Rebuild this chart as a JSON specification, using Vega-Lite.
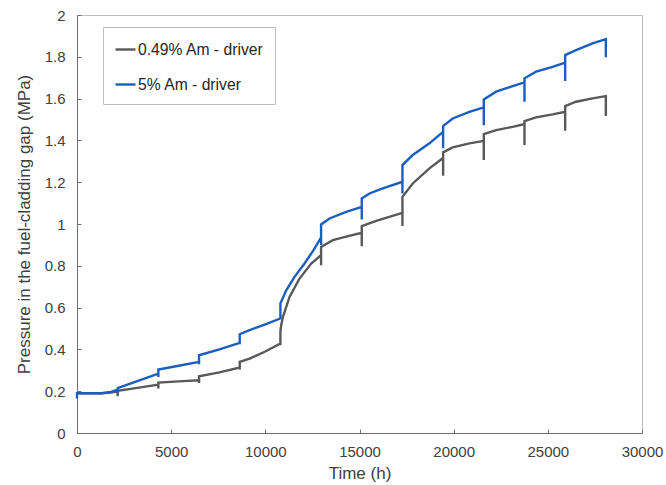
{
  "$schema": "https://vega.github.io/schema/vega-lite/v6.json",
  "width": 565,
  "height": 418,
  "autosize": {"type": "none"},
  "padding": {"left": 77, "top": 15, "right": 24, "bottom": 52},
  "background": "white",
  "config": {
    "font": "Liberation Sans",
    "view": {"stroke": "#bfbfbf", "strokeWidth": 1},
    "axis": {
      "domainColor": "#6e6e6e",
      "tickColor": "#6e6e6e",
      "grid": false,
      "labelColor": "#404040",
      "titleColor": "#404040",
      "labelFont": "Liberation Sans",
      "titleFont": "Liberation Sans",
      "labelFontSize": 15,
      "titleFontSize": 17,
      "titleFontWeight": "normal",
      "tickSize": -4
    }
  },
  "data": {
    "values": [
      {"s": "0.49% Am - driver", "i": 0, "t": 0, "p": 0.19},
      {"s": "0.49% Am - driver", "i": 1, "t": 1300, "p": 0.19},
      {"s": "0.49% Am - driver", "i": 2, "t": 1800, "p": 0.193},
      {"s": "0.49% Am - driver", "i": 3, "t": 2160, "p": 0.1997},
      {"s": "0.49% Am - driver", "i": 4, "t": 2160, "p": 0.176},
      {"s": "0.49% Am - driver", "i": 5, "t": 2160, "p": 0.202},
      {"s": "0.49% Am - driver", "i": 6, "t": 3200, "p": 0.216},
      {"s": "0.49% Am - driver", "i": 7, "t": 4320, "p": 0.2317},
      {"s": "0.49% Am - driver", "i": 8, "t": 4320, "p": 0.2126},
      {"s": "0.49% Am - driver", "i": 9, "t": 4320, "p": 0.2413},
      {"s": "0.49% Am - driver", "i": 10, "t": 5400, "p": 0.247},
      {"s": "0.49% Am - driver", "i": 11, "t": 6480, "p": 0.252},
      {"s": "0.49% Am - driver", "i": 12, "t": 6480, "p": 0.239},
      {"s": "0.49% Am - driver", "i": 13, "t": 6480, "p": 0.2715},
      {"s": "0.49% Am - driver", "i": 14, "t": 7560, "p": 0.29},
      {"s": "0.49% Am - driver", "i": 15, "t": 8640, "p": 0.313},
      {"s": "0.49% Am - driver", "i": 16, "t": 8640, "p": 0.3035},
      {"s": "0.49% Am - driver", "i": 17, "t": 8640, "p": 0.34},
      {"s": "0.49% Am - driver", "i": 18, "t": 9163, "p": 0.356},
      {"s": "0.49% Am - driver", "i": 19, "t": 10000, "p": 0.39},
      {"s": "0.49% Am - driver", "i": 20, "t": 10800, "p": 0.428},
      {"s": "0.49% Am - driver", "i": 21, "t": 10800, "p": 0.42},
      {"s": "0.49% Am - driver", "i": 22, "t": 10800, "p": 0.4836},
      {"s": "0.49% Am - driver", "i": 23, "t": 10830, "p": 0.51},
      {"s": "0.49% Am - driver", "i": 24, "t": 10930, "p": 0.555},
      {"s": "0.49% Am - driver", "i": 25, "t": 11285, "p": 0.651},
      {"s": "0.49% Am - driver", "i": 26, "t": 11816, "p": 0.739},
      {"s": "0.49% Am - driver", "i": 27, "t": 12437, "p": 0.811},
      {"s": "0.49% Am - driver", "i": 28, "t": 12960, "p": 0.851},
      {"s": "0.49% Am - driver", "i": 29, "t": 12960, "p": 0.803},
      {"s": "0.49% Am - driver", "i": 30, "t": 12960, "p": 0.8906},
      {"s": "0.49% Am - driver", "i": 31, "t": 13583, "p": 0.9227},
      {"s": "0.49% Am - driver", "i": 32, "t": 14293, "p": 0.94},
      {"s": "0.49% Am - driver", "i": 33, "t": 15120, "p": 0.9576},
      {"s": "0.49% Am - driver", "i": 34, "t": 15120, "p": 0.894},
      {"s": "0.49% Am - driver", "i": 35, "t": 15120, "p": 0.9897},
      {"s": "0.49% Am - driver", "i": 36, "t": 15885, "p": 1.015},
      {"s": "0.49% Am - driver", "i": 37, "t": 17280, "p": 1.0534},
      {"s": "0.49% Am - driver", "i": 38, "t": 17280, "p": 0.99},
      {"s": "0.49% Am - driver", "i": 39, "t": 17280, "p": 1.13},
      {"s": "0.49% Am - driver", "i": 40, "t": 17828, "p": 1.194},
      {"s": "0.49% Am - driver", "i": 41, "t": 18714, "p": 1.266},
      {"s": "0.49% Am - driver", "i": 42, "t": 19440, "p": 1.316},
      {"s": "0.49% Am - driver", "i": 43, "t": 19440, "p": 1.231},
      {"s": "0.49% Am - driver", "i": 44, "t": 19440, "p": 1.343},
      {"s": "0.49% Am - driver", "i": 45, "t": 19950, "p": 1.3665},
      {"s": "0.49% Am - driver", "i": 46, "t": 20836, "p": 1.3857},
      {"s": "0.49% Am - driver", "i": 47, "t": 21600, "p": 1.398},
      {"s": "0.49% Am - driver", "i": 48, "t": 21600, "p": 1.3057},
      {"s": "0.49% Am - driver", "i": 49, "t": 21600, "p": 1.43},
      {"s": "0.49% Am - driver", "i": 50, "t": 22253, "p": 1.449},
      {"s": "0.49% Am - driver", "i": 51, "t": 23134, "p": 1.465},
      {"s": "0.49% Am - driver", "i": 52, "t": 23760, "p": 1.478},
      {"s": "0.49% Am - driver", "i": 53, "t": 23760, "p": 1.3775},
      {"s": "0.49% Am - driver", "i": 54, "t": 23760, "p": 1.4925},
      {"s": "0.49% Am - driver", "i": 55, "t": 24375, "p": 1.51},
      {"s": "0.49% Am - driver", "i": 56, "t": 25256, "p": 1.5245},
      {"s": "0.49% Am - driver", "i": 57, "t": 25920, "p": 1.537},
      {"s": "0.49% Am - driver", "i": 58, "t": 25920, "p": 1.446},
      {"s": "0.49% Am - driver", "i": 59, "t": 25920, "p": 1.564},
      {"s": "0.49% Am - driver", "i": 60, "t": 26497, "p": 1.585},
      {"s": "0.49% Am - driver", "i": 61, "t": 27378, "p": 1.601},
      {"s": "0.49% Am - driver", "i": 62, "t": 28080, "p": 1.612},
      {"s": "0.49% Am - driver", "i": 63, "t": 28080, "p": 1.5165},

      {"s": "5% Am - driver", "i": 0, "t": 0, "p": 0.165},
      {"s": "5% Am - driver", "i": 1, "t": 0, "p": 0.19},
      {"s": "5% Am - driver", "i": 2, "t": 1300, "p": 0.19},
      {"s": "5% Am - driver", "i": 3, "t": 1800, "p": 0.197},
      {"s": "5% Am - driver", "i": 4, "t": 2160, "p": 0.207},
      {"s": "5% Am - driver", "i": 5, "t": 2160, "p": 0.19},
      {"s": "5% Am - driver", "i": 6, "t": 2160, "p": 0.215},
      {"s": "5% Am - driver", "i": 7, "t": 3200, "p": 0.248},
      {"s": "5% Am - driver", "i": 8, "t": 4320, "p": 0.284},
      {"s": "5% Am - driver", "i": 9, "t": 4320, "p": 0.268},
      {"s": "5% Am - driver", "i": 10, "t": 4320, "p": 0.3035},
      {"s": "5% Am - driver", "i": 11, "t": 5400, "p": 0.322},
      {"s": "5% Am - driver", "i": 12, "t": 6480, "p": 0.34},
      {"s": "5% Am - driver", "i": 13, "t": 6480, "p": 0.329},
      {"s": "5% Am - driver", "i": 14, "t": 6480, "p": 0.372},
      {"s": "5% Am - driver", "i": 15, "t": 7560, "p": 0.4},
      {"s": "5% Am - driver", "i": 16, "t": 8640, "p": 0.431},
      {"s": "5% Am - driver", "i": 17, "t": 8640, "p": 0.4247},
      {"s": "5% Am - driver", "i": 18, "t": 8640, "p": 0.4726},
      {"s": "5% Am - driver", "i": 19, "t": 9163, "p": 0.4917},
      {"s": "5% Am - driver", "i": 20, "t": 10000, "p": 0.52},
      {"s": "5% Am - driver", "i": 21, "t": 10800, "p": 0.548},
      {"s": "5% Am - driver", "i": 22, "t": 10800, "p": 0.545},
      {"s": "5% Am - driver", "i": 23, "t": 10800, "p": 0.62},
      {"s": "5% Am - driver", "i": 24, "t": 11110, "p": 0.683},
      {"s": "5% Am - driver", "i": 25, "t": 11550, "p": 0.747},
      {"s": "5% Am - driver", "i": 26, "t": 12082, "p": 0.811},
      {"s": "5% Am - driver", "i": 27, "t": 12560, "p": 0.875},
      {"s": "5% Am - driver", "i": 28, "t": 12960, "p": 0.9355},
      {"s": "5% Am - driver", "i": 29, "t": 12960, "p": 0.899},
      {"s": "5% Am - driver", "i": 30, "t": 12960, "p": 0.998},
      {"s": "5% Am - driver", "i": 31, "t": 13408, "p": 1.0265},
      {"s": "5% Am - driver", "i": 32, "t": 14293, "p": 1.058},
      {"s": "5% Am - driver", "i": 33, "t": 15120, "p": 1.082},
      {"s": "5% Am - driver", "i": 34, "t": 15120, "p": 1.022},
      {"s": "5% Am - driver", "i": 35, "t": 15120, "p": 1.122},
      {"s": "5% Am - driver", "i": 36, "t": 15530, "p": 1.146},
      {"s": "5% Am - driver", "i": 37, "t": 16236, "p": 1.17},
      {"s": "5% Am - driver", "i": 38, "t": 17280, "p": 1.202},
      {"s": "5% Am - driver", "i": 39, "t": 17280, "p": 1.146},
      {"s": "5% Am - driver", "i": 40, "t": 17280, "p": 1.282},
      {"s": "5% Am - driver", "i": 41, "t": 17828, "p": 1.33},
      {"s": "5% Am - driver", "i": 42, "t": 18714, "p": 1.386},
      {"s": "5% Am - driver", "i": 43, "t": 19440, "p": 1.441},
      {"s": "5% Am - driver", "i": 44, "t": 19440, "p": 1.362},
      {"s": "5% Am - driver", "i": 45, "t": 19440, "p": 1.4686},
      {"s": "5% Am - driver", "i": 46, "t": 19950, "p": 1.505},
      {"s": "5% Am - driver", "i": 47, "t": 20836, "p": 1.537},
      {"s": "5% Am - driver", "i": 48, "t": 21600, "p": 1.558},
      {"s": "5% Am - driver", "i": 49, "t": 21600, "p": 1.473},
      {"s": "5% Am - driver", "i": 50, "t": 21600, "p": 1.596},
      {"s": "5% Am - driver", "i": 51, "t": 22253, "p": 1.633},
      {"s": "5% Am - driver", "i": 52, "t": 23134, "p": 1.66},
      {"s": "5% Am - driver", "i": 53, "t": 23760, "p": 1.678},
      {"s": "5% Am - driver", "i": 54, "t": 23760, "p": 1.585},
      {"s": "5% Am - driver", "i": 55, "t": 23760, "p": 1.697},
      {"s": "5% Am - driver", "i": 56, "t": 24375, "p": 1.729},
      {"s": "5% Am - driver", "i": 57, "t": 25256, "p": 1.752},
      {"s": "5% Am - driver", "i": 58, "t": 25920, "p": 1.7717},
      {"s": "5% Am - driver", "i": 59, "t": 25920, "p": 1.684},
      {"s": "5% Am - driver", "i": 60, "t": 25920, "p": 1.808},
      {"s": "5% Am - driver", "i": 61, "t": 26497, "p": 1.832},
      {"s": "5% Am - driver", "i": 62, "t": 27378, "p": 1.8645},
      {"s": "5% Am - driver", "i": 63, "t": 28080, "p": 1.885},
      {"s": "5% Am - driver", "i": 64, "t": 28080, "p": 1.7975}
    ]
  },
  "mark": {"type": "line", "strokeWidth": 2.4, "strokeJoin": "miter", "strokeCap": "butt"},
  "encoding": {
    "x": {
      "field": "t",
      "type": "quantitative",
      "scale": {"domain": [0, 30000], "nice": false},
      "axis": {
        "title": "Time (h)",
        "values": [0, 5000, 10000, 15000, 20000, 25000, 30000],
        "format": "d",
        "labelPadding": 15,
        "titlePadding": 6,
        "labelFlush": false
      }
    },
    "y": {
      "field": "p",
      "type": "quantitative",
      "scale": {"domain": [0, 2], "nice": false},
      "axis": {
        "title": "Pressure in the fuel-cladding gap (MPa)",
        "values": [0, 0.2, 0.4, 0.6, 0.8, 1, 1.2, 1.4, 1.6, 1.8, 2],
        "format": "~g",
        "labelPadding": 16,
        "titlePadding": 11,
        "labelFlush": false
      }
    },
    "color": {
      "field": "s",
      "type": "nominal",
      "scale": {"domain": ["0.49% Am - driver", "5% Am - driver"], "range": ["#595959", "#1a5fbf"]},
      "legend": {
        "title": null,
        "orient": "none",
        "legendX": 26,
        "legendY": 12,
        "strokeColor": "#bfbfbf",
        "fillColor": "white",
        "padding": 11,
        "symbolType": "stroke",
        "symbolSize": 400,
        "symbolStrokeWidth": 2.4,
        "labelFontSize": 15.7,
        "labelColor": "#262626",
        "labelOffset": 1,
        "rowPadding": 15
      }
    },
    "order": {"field": "i", "type": "quantitative"}
  }
}
